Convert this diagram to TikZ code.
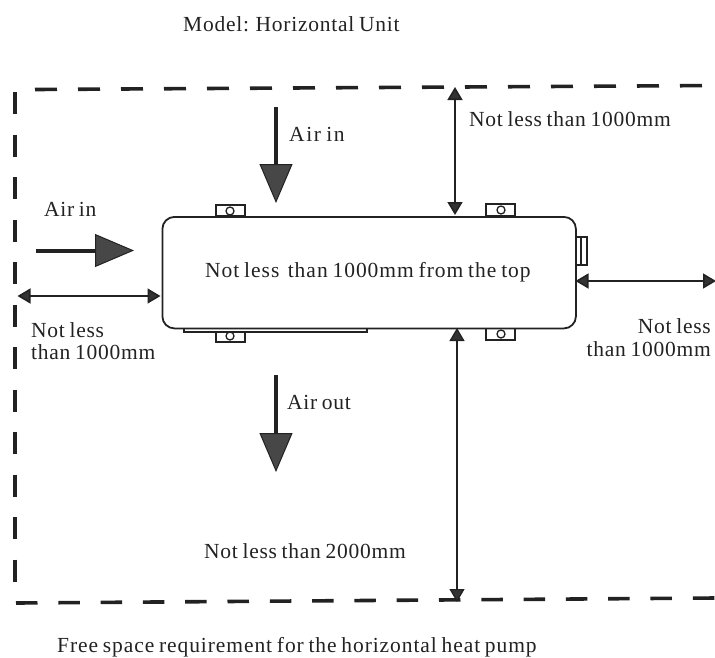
\documentclass[tikz,border=0pt]{standalone}
\usepackage{fontspec}
\setmainfont{Liberation Serif}[LetterSpace=3.5,WordSpace=0.75]
\usetikzlibrary{arrows.meta}
\definecolor{ink}{HTML}{222222}
\tikzset{
  x=1pt,y=-1pt,
  boundary/.style={draw=ink,line width=3.6pt,dash pattern=on 22pt off 21pt},
  airflow/.style={draw=ink,line width=4pt,-{Triangle[length=39pt,width=33pt,fill=black!72,line width=1pt]}},
  clearance/.style={draw=ink,line width=1.6pt,{Triangle[length=13pt,width=15pt,fill=black!80]}-{Triangle[length=13pt,width=15pt,fill=black!80]}},
  unitbody/.style={draw=ink,line width=1.8pt,rounded corners=12pt,fill=white},
  part/.style={draw=ink,line width=1.4pt,fill=white},
  label/.style={inner sep=0pt,font=\fontsize{21.5}{24}\selectfont,text=ink},
  lug/.style={draw=ink,line width=1.3pt,fill=white,circle,minimum size=8pt,inner sep=0pt}
}
\begin{document}
\begin{tikzpicture}
\useasboundingbox (0,0) rectangle (715,657);
% boundary
\draw[boundary] (35,89.5) -- (715,85.5);
\draw[boundary,line width=4.2pt,dash pattern=on 22pt off 20.5pt] (15,92) -- (15,590);
\draw[boundary,dash pattern=on 21.5pt off 20.8pt] (16,603) -- (715,598);
% small parts on the unit
\draw[part] (216,216) rectangle (245,205);
\draw[part] (486,216) rectangle (515,204);
\draw[part] (216,328) rectangle (245,342);
\draw[part] (486,328) rectangle (515,340);
\draw[part] (184,328) rectangle (367,332);
\draw[part] (575,237) rectangle (587,265);
\draw[part] (581,237) -- (581,265);
\node[lug] (lugA) at (230,211) {};
\node[lug] (lugB) at (501,210) {};
\node[lug] (lugC) at (230,336) {};
\node[lug] (lugD) at (501,334) {};
% unit
\node[unitbody,anchor=north west,minimum width=413.5pt,minimum height=111.5pt,inner sep=0pt] (unit) at (161.5,216) {};
\node[label,anchor=base west] (toplabel) at (205,277) {\addfontfeature{LetterSpace=4.6}Not less\, than 1000mm from the top};
% free ends
\coordinate (topedge) at (455,87);
\coordinate (topend) at (455,215);
\coordinate (botedge) at (457,602);
\coordinate (botend) at (457,328);
\coordinate (leftedge) at (17.5,296);
\coordinate (leftend) at (160.5,296);
\coordinate (rightedge) at (716,281);
\coordinate (rightend) at (575.5,281);
\coordinate (a1s) at (276,107);
\coordinate (a1e) at (276,203);
\coordinate (a2s) at (36,250.5);
\coordinate (a2e) at (134,250.5);
\coordinate (a3s) at (276,375);
\coordinate (a3e) at (276,472);
% clearance arrows
\draw[clearance] (topedge) -- (topend);
\draw[clearance,line width=1.3pt] (botend) -- (botedge);
\draw[clearance] (leftedge) -- (leftend);
\draw[clearance] (rightend) -- (rightedge);
% air arrows
\draw[airflow] (a1s) -- (a1e);
\draw[airflow] (a2s) -- (a2e);
\draw[airflow] (a3s) -- (a3e);
% labels
\node[label,anchor=base west] (title) at (183,31) {Model: Horizontal Unit};
\node[label,anchor=base west] (t1) at (469,126) {Not less than 1000mm};
\node[label,anchor=base west] (air1) at (289,141) {\addfontfeature{LetterSpace=7.5}Air in};
\node[label,anchor=base west] (air2) at (44,216) {Air in};
\node[label,anchor=base west] (l1) at (31,337) {Not less};
\node[label,anchor=base west] (l2) at (31,359) {than 1000mm};
\node[label,anchor=base east] (r1) at (711,333) {Not less};
\node[label,anchor=base east] (r2) at (711,356) {than 1000mm};
\node[label,anchor=base west] (air3) at (287,409) {Air out};
\node[label,anchor=base west] (b1) at (204,558) {Not less than 2000mm};
\node[label,anchor=base west] (cap) at (57,652) {\addfontfeature{LetterSpace=4.3}Free space requirement for the horizontal heat pump};
\end{tikzpicture}
\end{document}
